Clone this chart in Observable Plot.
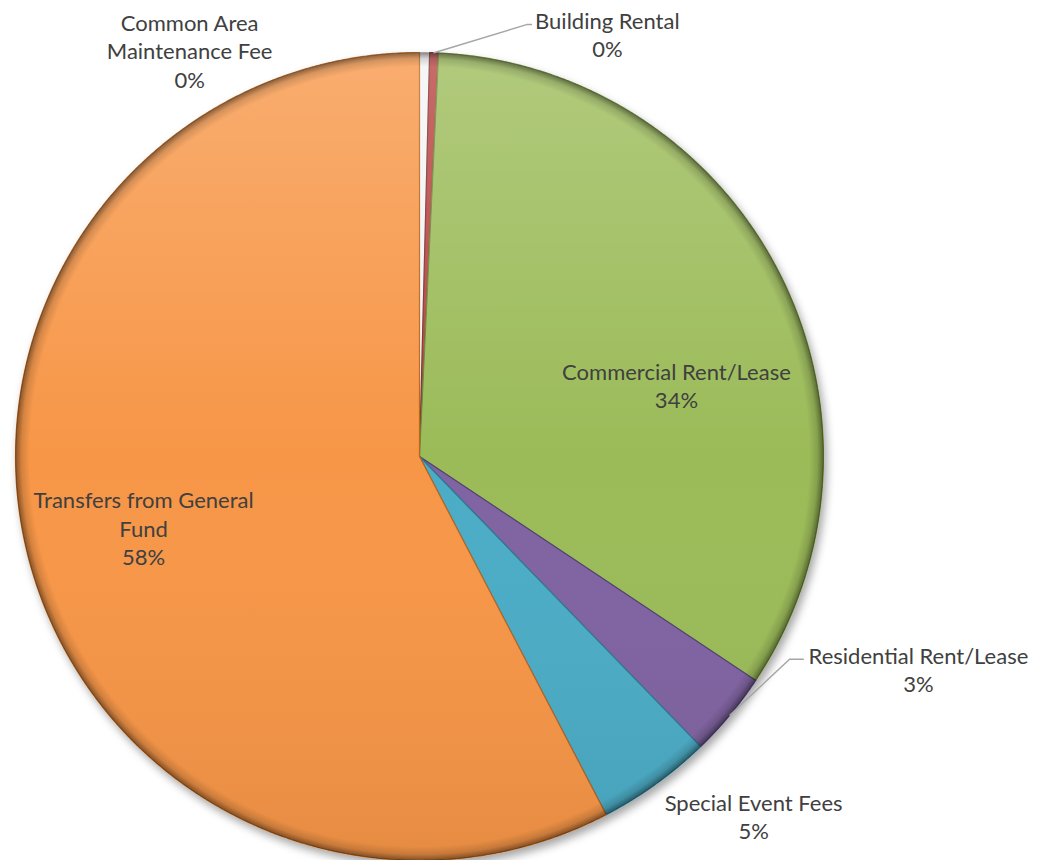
<!DOCTYPE html>
<html><head><meta charset="utf-8">
<script src="https://cdn.jsdelivr.net/npm/d3@7"></script>
<script src="https://cdn.jsdelivr.net/npm/@observablehq/plot@0.6"></script>
<style>body{margin:0;background:#fff;} #chart svg{display:block;}</style>
</head><body><div id="chart"></div>
<script>
// ---- data ----
const categories = ["Common Area Maintenance Fee","Building Rental","Commercial Rent/Lease","Residential Rent/Lease","Special Event Fees","Transfers from General Fund"];
const values = [0.4, 0.35, 33.6, 3.4, 4.6, 57.65];
const labelText = [["Common Area","Maintenance Fee"],["Building Rental"],["Commercial Rent/Lease"],["Residential Rent/Lease"],["Special Event Fees"],["Transfers from General","Fund"]];
const colors = ["#F4F4F4","#B8433F","#9BBB59","#8064A2","#4BACC6","#F79646"];
const edgeColors = ["#D0D0D0","#7A2F2D","#6A8534","#55407A","#2C7C93","#B8651E"];

// ---- layout (units of pie radius, relative to pie centre, y down) ----
const W = 1037, H = 860, CX = 419, CY = 456, R = 404;
const labelPos = [[-0.569,-1.005],[0.465,-1.045],[0.636,-0.176],[1.235,0.527],[0.827,0.889],[-0.683,0.176]];
const leaderElbow = {1: [[0.265,-1.069],[0.277,-1.069]], 3: [[0.916,0.502],[0.950,0.502]]};

// ---- derived ----
const total = d3.sum(values);
const arcs = d3.pie().sort(null).value(d => d)(values);
const slicePts = [];
arcs.forEach((a, i) => {
  const n = Math.max(2, Math.ceil((a.endAngle - a.startAngle) / 0.004));
  slicePts.push({cat: categories[i], x: 0, y: 0});
  for (let k = 0; k <= n; k++) {
    const t = a.startAngle + (a.endAngle - a.startAngle) * k / n;
    slicePts.push({cat: categories[i], x: Math.sin(t), y: -Math.cos(t)});
  }
});
const circlePts = d3.range(0, 721).map(k => ({x: Math.sin(k/720*2*Math.PI), y: -Math.cos(k/720*2*Math.PI)}));
const labels = categories.map((c, i) => ({
  x: labelPos[i][0], y: labelPos[i][1],
  text: labelText[i].join("\n") + "\n" + Math.round(values[i] / total * 100) + "%"
}));
const leaders = [];
Object.keys(leaderElbow).forEach(k => {
  const a = arcs[+k]; const m = (a.startAngle + a.endAngle) / 2;
  leaders.push({id: k, x: Math.sin(m), y: -Math.cos(m)});
  leaderElbow[k].forEach(p => leaders.push({id: k, x: p[0], y: p[1]}));
});

const plot = Plot.plot({
  width: W, height: H, margin: 0,
  x: {domain: [-CX / R, (W - CX) / R], range: [0, W], axis: null},
  y: {domain: [-CY / R, (H - CY) / R], range: [0, H], axis: null},
  color: {domain: categories, range: colors},
  style: {fontFamily: "Lato, 'Open Sans', sans-serif", fontSize: "22px", color: "#404040", background: "#fff"},
  marks: [
    Plot.line(slicePts, {x: "x", y: "y", z: "cat", fill: "cat", stroke: d => edgeColors[categories.indexOf(d.cat)], strokeWidth: 1.2, curve: "linear-closed"}),
    Plot.line(circlePts, {x: "x", y: "y", fill: "url(#shadeLin)", stroke: "none", curve: "linear-closed"}),
    Plot.line(circlePts, {x: "x", y: "y", fill: "url(#shadeRad)", stroke: "none", curve: "linear-closed"}),
    Plot.line(leaders, {x: "x", y: "y", z: "id", stroke: "#A6A6A6", strokeWidth: 1.5}),
    Plot.text(labels, {x: "x", y: "y", text: "text", fill: "#404040", lineHeight: 1.28, fontSize: 22})
  ]
});

const ns = "http://www.w3.org/2000/svg";
const defs = document.createElementNS(ns, "defs");
defs.innerHTML = `
 <linearGradient id="shadeLin" x1="0" y1="0" x2="0" y2="1">
   <stop offset="0" stop-color="#fff" stop-opacity="0.22"/>
   <stop offset="0.5" stop-color="#fff" stop-opacity="0.0"/>
   <stop offset="1" stop-color="#000" stop-opacity="0.07"/>
 </linearGradient>
 <radialGradient id="shadeRad" cx="0.5" cy="0.5" r="0.5">
   <stop offset="0.965" stop-color="#000" stop-opacity="0"/>
   <stop offset="0.985" stop-color="#000" stop-opacity="0.14"/>
   <stop offset="1" stop-color="#000" stop-opacity="0.45"/>
 </radialGradient>
 <filter id="drop" x="-10%" y="-10%" width="120%" height="120%">
   <feDropShadow dx="3" dy="5" stdDeviation="4" flood-color="#000" flood-opacity="0.35"/>
 </filter>`;
plot.insertBefore(defs, plot.firstChild);
const g = plot.querySelector('g[aria-label="line"]');
if (g) g.setAttribute("filter", "url(#drop)");
document.getElementById("chart").appendChild(plot);
</script>
</body></html>
